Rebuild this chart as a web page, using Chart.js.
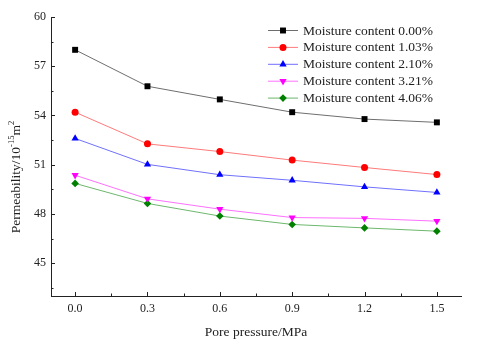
<!DOCTYPE html>
<html>
<head>
<meta charset="utf-8">
<script src="https://cdn.jsdelivr.net/npm/chart.js@4"></script>
<style>
  html, body { margin: 0; padding: 0; background: #fff; }
  #wrap { width: 480px; height: 341px; position: relative; }
</style>
</head>
<body>
<div id="wrap"><canvas id="chart"></canvas></div>
<script>
/* ── data ── */
const pressure = [0.0, 0.3, 0.6, 0.9, 1.2, 1.5];
const moisture000 = [58.00, 55.78, 54.98, 54.20, 53.78, 53.58];
const moisture103 = [54.20, 52.27, 51.80, 51.28, 50.83, 50.40];
const moisture210 = [52.60, 51.02, 50.39, 50.05, 49.65, 49.31];
const moisture321 = [50.36, 48.92, 48.29, 47.78, 47.73, 47.56];
const moisture406 = [49.86, 48.64, 47.87, 47.36, 47.15, 46.95];

const seriesLabels = [
    'Moisture content 0.00%',
    'Moisture content 1.03%',
    'Moisture content 2.10%',
    'Moisture content 3.21%',
    'Moisture content 4.06%'
];
const xTicks = [0.0, 0.3, 0.6, 0.9, 1.2, 1.5];
const xMinor = [0.15, 0.45, 0.75, 1.05, 1.35];
const yTicks = [45, 48, 51, 54, 57, 60];
const yMinor = [43.5, 46.5, 49.5, 52.5, 55.5, 58.5];

const FONT = "'Liberation Serif', 'Times New Roman', serif";
Chart.defaults.font.family = FONT;
Chart.defaults.color = '#222';

const toPts = arr => arr.map((v, i) => ({ x: pressure[i], y: v }));

const makeSet = (label, values, marker, line, style, radius, rot) => ({
    label,
    data: toPts(values),
    borderColor: line,
    borderWidth: 1,
    backgroundColor: marker,
    pointBackgroundColor: marker,
    pointBorderColor: marker,
    pointBorderWidth: 0,
    pointStyle: style,
    pointRadius: radius,
    pointRotation: rot || 0,
    tension: 0
});

/* ===================== INWARD TICKS ===================== */
const innerTicks = {
    id: 'innerTicks',
    afterDraw(chart) {
        const { ctx, chartArea: a, scales: { x, y } } = chart;
        ctx.save();
        ctx.strokeStyle = '#222';
        ctx.lineWidth = 1;
        ctx.beginPath();
        xTicks.forEach(v => { const p = Math.round(x.getPixelForValue(v)) + 0.5; ctx.moveTo(p, a.bottom); ctx.lineTo(p, a.bottom - 4); });
        xMinor.forEach(v => { const p = Math.round(x.getPixelForValue(v)) + 0.5; ctx.moveTo(p, a.bottom); ctx.lineTo(p, a.bottom - 2.5); });
        yTicks.forEach(v => { const p = Math.round(y.getPixelForValue(v)) + 0.5; ctx.moveTo(a.left, p); ctx.lineTo(a.left + 4, p); });
        yMinor.forEach(v => { const p = Math.round(y.getPixelForValue(v)) + 0.5; ctx.moveTo(a.left, p); ctx.lineTo(a.left + 2.5, p); });
        ctx.stroke();
        ctx.restore();
    }
};

/* ===================== Y TITLE WITH SUPERSCRIPTS ===================== */
const yTitle = {
    id: 'yTitle',
    afterDraw(chart) {
        const ctx = chart.ctx;
        const parts = [
            { t: 'Permeability/10', sup: false },
            { t: '-15', sup: true },
            { t: 'm', sup: false },
            { t: '2', sup: true }
        ];
        ctx.save();
        ctx.translate(15, 177);
        ctx.rotate(-Math.PI / 2);
        ctx.fillStyle = '#222';
        ctx.textAlign = 'left';
        ctx.textBaseline = 'alphabetic';
        let w = 0;
        parts.forEach(p => {
            ctx.font = (p.sup ? '8.5px ' : '13.5px ') + FONT;
            p.w = ctx.measureText(p.t).width;
            w += p.w;
        });
        let xp = -w / 2;
        parts.forEach(p => {
            ctx.font = (p.sup ? '8.5px ' : '13.5px ') + FONT;
            ctx.fillText(p.t, xp, p.sup ? -1 : 5);
            xp += p.w;
        });
        ctx.restore();
    }
};

/* ===================== LEGEND ===================== */
const boxLegend = {
    id: 'boxLegend',
    afterDraw(chart) {
        const ctx = chart.ctx;
        chart.data.datasets.forEach((ds, i) => {
            const yy = 30 + i * 16.9;
            ctx.save();
            ctx.strokeStyle = ds.borderColor;
            ctx.lineWidth = 1;
            ctx.beginPath();
            ctx.moveTo(268, yy + 0.5);
            ctx.lineTo(298, yy + 0.5);
            ctx.stroke();
            ctx.fillStyle = ds.pointBackgroundColor;
            ctx.strokeStyle = ds.pointBackgroundColor;
            Chart.helpers.drawPoint(ctx, {
                pointStyle: ds.pointStyle,
                radius: ds.pointRadius,
                rotation: ds.pointRotation,
                borderWidth: 0
            }, 283, yy + 0.5);
            ctx.fillStyle = '#222';
            ctx.font = '13.5px ' + FONT;
            ctx.textBaseline = 'middle';
            ctx.fillText(ds.label, 303, yy + 1);
            ctx.restore();
        });
    }
};

new Chart(document.getElementById('chart'), {
    type: 'line',
    data: {
        datasets: [
            makeSet(seriesLabels[0], moisture000, '#000000', '#6e6e6e', 'rect', 4.2),
            makeSet(seriesLabels[1], moisture103, '#ff0000', '#ff7a7a', 'circle', 3.5),
            makeSet(seriesLabels[2], moisture210, '#0000ff', '#7070ff', 'triangle', 4.2),
            makeSet(seriesLabels[3], moisture321, '#ff00ff', '#ff70ff', 'triangle', 4.2, 180),
            makeSet(seriesLabels[4], moisture406, '#008000', '#6cb86c', 'rectRot', 3.8)
        ]
    },
    options: {
        responsive: true,
        maintainAspectRatio: false,
        animation: false,
        layout: { padding: { top: 17, right: 19, left: 0, bottom: 0 } },
        plugins: {
            legend: { display: false },
            tooltip: { enabled: false }
        },
        scales: {
            x: {
                type: 'linear',
                min: -0.1,
                max: 1.6,
                afterBuildTicks: s => { s.ticks = xTicks.map(v => ({ value: v })); },
                afterFit: s => { s.height = 45; },
                ticks: {
                    autoSkip: false,
                    maxRotation: 0,
                    padding: 6,
                    color: '#222',
                    font: { size: 12 },
                    callback: v => Number(v).toFixed(1)
                },
                grid: { display: false, drawTicks: false },
                border: { display: true, color: '#222', width: 1 },
                title: {
                    display: true,
                    text: 'Pore pressure/MPa',
                    color: '#222',
                    font: { size: 13.5 },
                    padding: { top: 6, bottom: 0 }
                }
            },
            y: {
                type: 'linear',
                min: 43,
                max: 60,
                afterBuildTicks: s => { s.ticks = yTicks.map(v => ({ value: v })); },
                afterFit: s => { s.width = 51; },
                ticks: {
                    padding: 5,
                    color: '#222',
                    font: { size: 12 }
                },
                grid: { display: false, drawTicks: false },
                border: { display: true, color: '#222', width: 1 }
            }
        }
    },
    plugins: [innerTicks, yTitle, boxLegend]
});
</script>
</body>
</html>
